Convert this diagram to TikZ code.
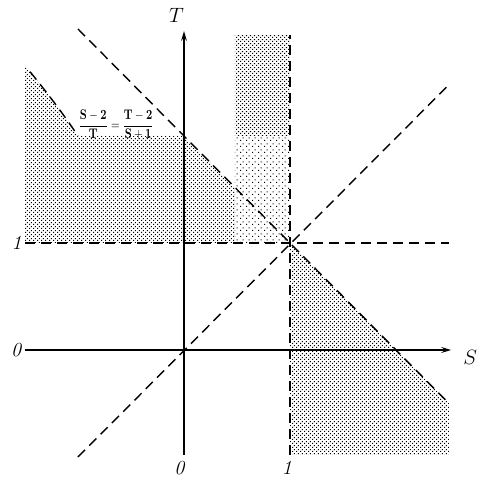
\documentclass[tikz,border=0pt]{standalone}
\usepackage{amsmath}
\usetikzlibrary{patterns,arrows.meta}
\pgfdeclarepatternformonly{densedots}{\pgfqpoint{0pt}{0pt}}{\pgfqpoint{4.3pt}{4.3pt}}{\pgfqpoint{4.3pt}{4.3pt}}{%
  \pgfpathrectangle{\pgfqpoint{0pt}{0pt}}{\pgfqpoint{1.3pt}{1.3pt}}%
  \pgfpathrectangle{\pgfqpoint{2.15pt}{2.15pt}}{\pgfqpoint{1.3pt}{1.3pt}}%
  \pgfusepath{fill}}
\pgfdeclarepatternformonly{sparsedots}{\pgfqpoint{0pt}{0pt}}{\pgfqpoint{6pt}{6pt}}{\pgfqpoint{6pt}{6pt}}{%
  \pgfpathrectangle{\pgfqpoint{0pt}{0pt}}{\pgfqpoint{1.3pt}{1.3pt}}%
  \pgfpathrectangle{\pgfqpoint{3pt}{3pt}}{\pgfqpoint{1.3pt}{1.3pt}}%
  \pgfusepath{fill}}
\begin{document}
\begin{tikzpicture}[x=106pt,y=107pt,
  dense/.style={pattern=densedots,pattern color=black},
  sparse/.style={pattern=sparsedots,pattern color=black},
  dashline/.style={line width=1.4pt,dash pattern=on 10pt off 6pt},
  axis/.style={line width=1.4pt,-{Stealth[length=10pt,width=6pt,inset=4pt]}},
  lab/.style={font=\fontsize{20}{24}\selectfont,inner sep=0pt}]
\useasboundingbox (-1.7358,-1.1869) rectangle (2.7642,3.2710);
% shaded regions
\fill[dense] (-1.5,1) -- (-1.5,2.658)
  -- plot[domain=2.658:2,samples=30,variable=\t] ({0.5-sqrt(1.25+(\t-1)^2)},\t)
  -- (0,2) -- (0.48,1.52) -- (0.48,1) -- cycle;
\fill[sparse] (0.48,1) rectangle (1,2);
\fill[dense] (0.48,2) rectangle (1,2.94);
\fill[dense] (1,1) -- (2.5,-0.5) -- (2.5,-0.98) -- (1,-0.98) -- cycle;
% coordinates
\coordinate (sl) at (-1.5,0);
\coordinate (sr) at (2.52,0);
\coordinate (tb) at (0,-0.98);
\coordinate (tt) at (0,2.98);
\coordinate (hl) at (-1.5,1);
\coordinate (hr) at (2.5,1);
\coordinate (vb) at (1,-0.98);
\coordinate (vt) at (1,2.94);
\coordinate (dl) at (-1,-1);
\coordinate (dr) at (2.5,2.48);
\coordinate (al) at (-1,3);
\coordinate (ar) at (2.5,-0.5);
% dashed lines
\draw[dashline] (hl) -- (hr);
\draw[dashline] (vb) -- (vt);
\draw[dashline] (dl) -- (dr);
\draw[dashline] (al) -- (ar);
\draw[dashline] plot[domain=2.6:2,samples=30,variable=\t] ({0.5-sqrt(1.25+(\t-1)^2)},\t);
% axes
\draw[axis] (sl) -- (sr);
\draw[axis] (tb) -- (tt);
% labels
\node[lab] (Slab) at (2.7,-0.07) {$S$};
\node[lab] (Tlab) at (-0.07,3.13) {$T$};
\node[lab] (zl) at (-1.58,0) {\textit{0}};
\node[lab] (ol) at (-1.58,1) {\textit{1}};
\node[lab] (zb) at (-0.04,-1.1) {\textit{0}};
\node[lab] (ob) at (0.97,-1.1) {\textit{1}};
\node[inner sep=0pt] (eq) at (-0.64,2.1) {\resizebox{75pt}{19pt}{$\dfrac{\mathbf{S-2}}{\mathbf{T}}=\dfrac{\mathbf{T-2}}{\mathbf{S+1}}$}};
\end{tikzpicture}
\end{document}
